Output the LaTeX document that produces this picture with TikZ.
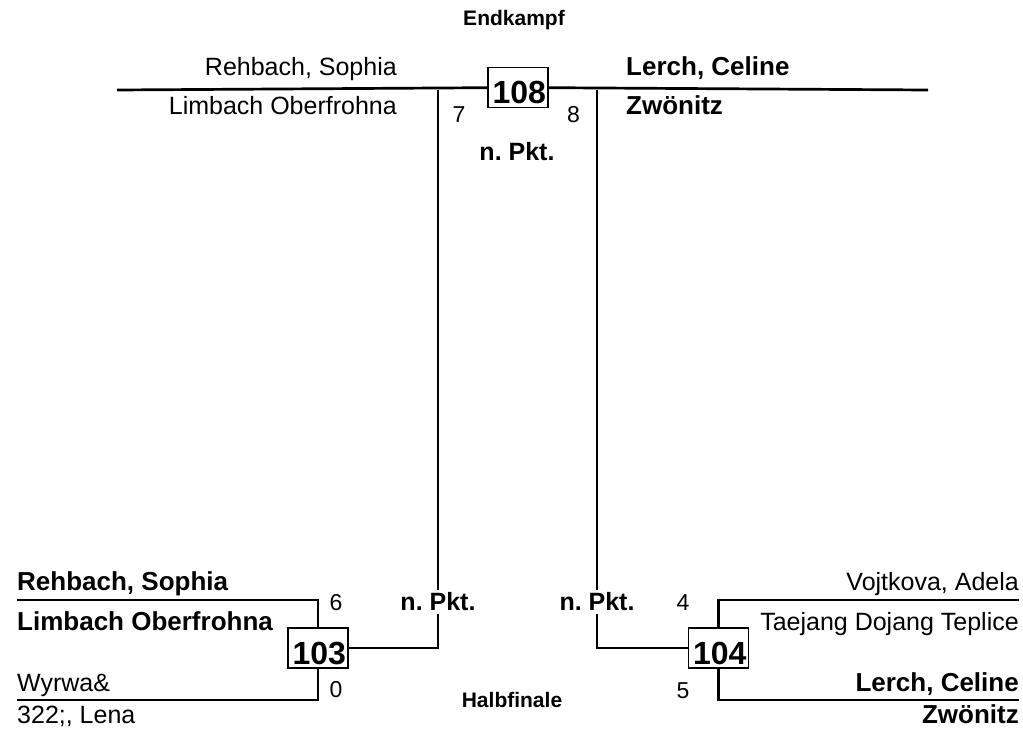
\documentclass[tikz,border=0pt]{standalone}
\usepackage{fontspec}
\setmainfont{Liberation Sans}
\usepackage{tikz}
\frenchspacing
\tikzstyle{linie} = [line width=2.7pt]
\tikzstyle{kampf} = [draw, line width=1.2pt, fill=white, inner xsep=2pt, inner ysep=3pt, text width=56pt, align=right, text height=33pt, text depth=1pt, font=\fontsize{32}{32}\selectfont\bfseries]
\tikzstyle{spieler} = [inner sep=0pt, font=\fontsize{25}{25}\selectfont]
\tikzstyle{sieger} = [inner sep=0pt, font=\fontsize{26}{26}\selectfont\bfseries]
\tikzstyle{punkte} = [inner sep=0pt, font=\fontsize{23}{23}\selectfont]
\tikzstyle{wertung} = [fill=white, inner sep=3pt, font=\fontsize{25}{25}\selectfont\bfseries]
\tikzstyle{runde} = [inner sep=0pt, font=\fontsize{21}{21}\selectfont\bfseries]

\begin{document}
\begin{tikzpicture}[x=1pt, y=-1pt]
	\useasboundingbox (0,0) rectangle (1023,739);

	\node[kampf] (k108) at (518,87.5) {108};
	\node[kampf] (k103) at (318,648) {103};
	\node[kampf] (k104) at (718.5,648) {104};

	\coordinate (ol) at (117,90);
	\coordinate (or) at (928,90);
	\coordinate (v7) at (438,90);
	\coordinate (v8) at (597,90);
	\coordinate (a6) at (17,600);
	\coordinate (a0) at (17,700);
	\coordinate (b4) at (1019,600);
	\coordinate (b5) at (1019,700);

	\draw[linie] (ol) -- (k108);
	\draw[linie] (k108) -- (or);
	\draw[linie] (v7) |- (k103);
	\draw[linie] (v8) |- (k104);
	\draw[linie] (a6) -| (k103);
	\draw[linie] (a0) -| (k103);
	\draw[linie] (b4) -| (k104);
	\draw[linie] (b5) -| (k104);

	% Endkampf
	\node[runde] (endk) at (514,20) {Endkampf};
	\node[spieler, anchor=base east] (s1) at (397,75) {Rehbach, Sophia};
	\node[spieler, anchor=base east] (v1) at (397,114) {Limbach Oberfrohna};
	\node[sieger, anchor=base west] (s2) at (626,75) {Lerch, Celine};
	\node[sieger, anchor=base west] (v2) at (626,114) {Zwönitz};
	\node[punkte] (p7) at (459,115) {7};
	\node[punkte] (p8) at (573.5,115) {8};
	\node[wertung] (w108) at (517,152) {n. Pkt.};

	% Halbfinale
	\node[runde] (halbf) at (512,700) {Halbfinale};
	\node[sieger, anchor=base west] (s3) at (17,590) {Rehbach, Sophia};
	\node[sieger, anchor=base west] (v3) at (17,630) {Limbach Oberfrohna};
	\node[spieler, anchor=base west] (s4) at (17,691) {Wyrwa\&};
	\node[spieler, anchor=base west] (v4) at (17,723) {322;, Lena};
	\node[punkte] (p6) at (336,603) {6};
	\node[punkte] (p0) at (336,690) {0};
	\node[wertung] (w103) at (438,602) {n. Pkt.};

	\node[spieler, anchor=base east] (s5) at (1019,590) {Vojtkova, Adela};
	\node[spieler, anchor=base east] (v5) at (1019,630) {Taejang Dojang Teplice};
	\node[sieger, anchor=base east] (s6) at (1019,691) {Lerch, Celine};
	\node[sieger, anchor=base east] (v6) at (1019,723) {Zwönitz};
	\node[punkte] (p4) at (683,602.5) {4};
	\node[punkte] (p5) at (683,690.5) {5};
	\node[wertung] (w104) at (597,602) {n. Pkt.};
\end{tikzpicture}
\end{document}
